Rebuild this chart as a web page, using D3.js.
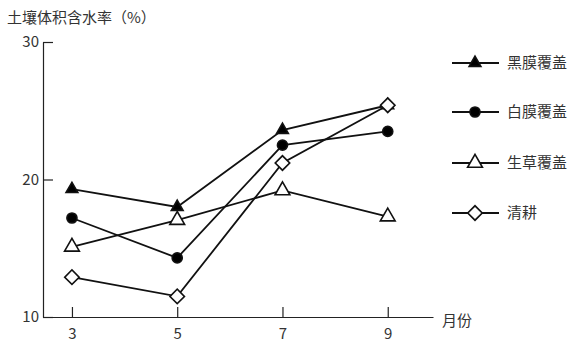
<!DOCTYPE html>
<html>
<head>
<meta charset="utf-8">
<script src="https://cdn.jsdelivr.net/npm/d3@7"></script>
<style>
  body { margin: 0; background: #fff; }
  text { font-family: "Noto Sans CJK SC", "Noto Sans", sans-serif; fill: #333; }
</style>
</head>
<body>
<div id="chart"></div>
<script>
// datos
const months = [3, 5, 7, 9];
const yTicks = [10, 20, 30];
const seriesNames = ["黑膜覆盖", "白膜覆盖", "生草覆盖", "清耕"];
const blackFilm = [19.3, 18.0, 23.6, 25.4];
const whiteFilm = [17.2, 14.3, 22.5, 23.5];
const grassCover = [15.1, 17.05, 19.2, 17.3];
const clearTill = [12.9, 11.5, 21.2, 25.4];
const yTitle = "土壤体积含水率（%）";
const xTitle = "月份";

const width = 581, height = 350;

const svg = d3.select("#chart").append("svg")
    .attr("width", width)
    .attr("height", height);

const x = d3.scaleLinear().domain([2.45, 9.86]).range([43, 433]);
const y = d3.scaleLinear().domain([10, 30]).range([317, 42]);

// ejes
const xAxis = d3.axisBottom(x).tickValues(months).tickSizeInner(-10).tickSizeOuter(0).tickPadding(11);
const yAxis = d3.axisLeft(y).tickValues(yTicks).tickSizeInner(-10).tickSizeOuter(0).tickPadding(4);

const gx = svg.append("g").attr("transform", "translate(0," + y(10) + ")").call(xAxis);
const gy = svg.append("g").attr("transform", "translate(" + x(2.45) + ",0)").call(yAxis);

[gx, gy].forEach(g => {
    g.selectAll("path, line").attr("stroke", "#222").attr("stroke-width", 1.2);
    g.selectAll("text").style("font-size", "15px").attr("fill", "#333");
});

svg.append("text")
    .attr("x", 7).attr("y", 23)
    .style("font-size", "15px")
    .text(yTitle);

svg.append("text")
    .attr("x", 442).attr("y", 326)
    .style("font-size", "15px")
    .text(xTitle);

// series con su marcador
const series = [
    { name: seriesNames[0], values: blackFilm, type: d3.symbolTriangle, size: 60, fill: "#000", rot: 0 },
    { name: seriesNames[1], values: whiteFilm, type: d3.symbolCircle, size: 80, fill: "#000", rot: 0 },
    { name: seriesNames[2], values: grassCover, type: d3.symbolTriangle, size: 95, fill: "#fff", rot: 0 },
    { name: seriesNames[3], values: clearTill, type: d3.symbolSquare, size: 105, fill: "#fff", rot: 45 }
];

const line = d3.line().x(d => x(d.m)).y(d => y(d.v));

series.forEach(s => {
    const pts = months.map((m, i) => ({ m: m, v: s.values[i] }));
    svg.append("path")
        .datum(pts)
        .attr("d", line)
        .attr("fill", "none")
        .attr("stroke", "#111")
        .attr("stroke-width", 1.8);
});

series.forEach(s => {
    const pts = months.map((m, i) => ({ m: m, v: s.values[i] }));
    svg.selectAll(null)
        .data(pts)
        .enter().append("path")
        .attr("d", d3.symbol().type(s.type).size(s.size))
        .attr("transform", d => "translate(" + x(d.m) + "," + y(d.v) + ") rotate(" + s.rot + ")")
        .attr("fill", s.fill)
        .attr("stroke", "#111")
        .attr("stroke-width", 1.6);
});

// leyenda
const legendY = [63, 112, 163, 213];
const legend = svg.selectAll(".legend")
    .data(series)
    .enter().append("g")
    .attr("class", "legend")
    .attr("transform", (d, i) => "translate(452," + legendY[i] + ")");

legend.append("line")
    .attr("x1", 0).attr("x2", 47)
    .attr("stroke", "#111").attr("stroke-width", 1.8);

legend.append("path")
    .attr("d", d => d3.symbol().type(d.type).size(d.size)())
    .attr("transform", d => "translate(23,0) rotate(" + d.rot + ")")
    .attr("fill", d => d.fill)
    .attr("stroke", "#111")
    .attr("stroke-width", 1.6);

legend.append("text")
    .attr("x", 55).attr("dy", "0.36em")
    .style("font-size", "15px")
    .text(d => d.name);
</script>
</body>
</html>
